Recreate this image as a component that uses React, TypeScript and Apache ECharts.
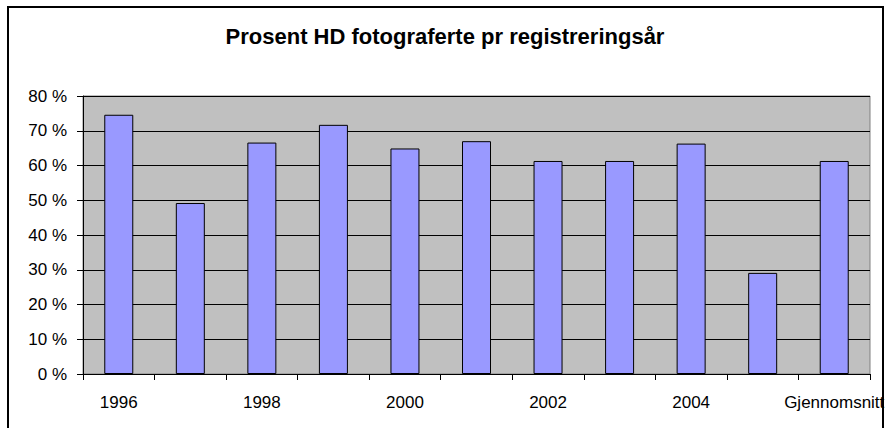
import React, { useEffect, useRef } from "react";
import * as echarts from "echarts";

const categories = ["1996", "1997", "1998", "1999", "2000", "2001", "2002", "2003", "2004", "2005", "Gjennomsnitt"];
const percentValues = [74.6, 49.2, 66.6, 71.7, 64.9, 67.0, 61.3, 61.3, 66.3, 29.1, 61.3];
const titleText = "Prosent HD fotograferte pr registreringsår";

export default function App() {
  const ref = useRef<HTMLDivElement>(null);
  useEffect(() => {
    if (!ref.current) return;
    const chart = echarts.init(ref.current, null, { renderer: "svg" });
    const font = "Liberation Sans, Arial, sans-serif";
    chart.setOption({
      animation: false,
      backgroundColor: "#ffffff",
      title: {
        text: titleText,
        left: "center",
        top: 20,
        textStyle: { fontFamily: font, fontSize: 22, fontWeight: "bold", color: "#000" },
      },
      graphic: [
        {
          type: "rect",
          shape: { x: 8, y: 7, width: 875, height: 440 },
          style: { fill: "none", stroke: "#000", lineWidth: 2 },
          z: -1,
          silent: true,
        },
      ],
      grid: {
        left: 83,
        right: 20,
        top: 96,
        bottom: 54,
        show: true,
        backgroundColor: "#C0C0C0",
        borderColor: "#808080",
        borderWidth: 1,
      },
      xAxis: {
        type: "category",
        data: categories,
        boundaryGap: true,
        axisLine: { show: true, lineStyle: { color: "#000", width: 1 } },
        axisTick: { show: true, interval: 0, length: 6, lineStyle: { color: "#000" } },
        axisLabel: {
          interval: 1,
          margin: 20,
          fontFamily: font,
          fontSize: 17,
          color: "#000",
        },
      },
      yAxis: {
        type: "value",
        min: 0,
        max: 80,
        interval: 10,
        axisLine: { show: true, lineStyle: { color: "#000", width: 1 } },
        axisTick: { show: true, length: 6, lineStyle: { color: "#000" } },
        axisLabel: {
          formatter: "{value} %",
          margin: 16,
          fontFamily: font,
          fontSize: 17,
          color: "#000",
        },
        splitLine: { show: true, lineStyle: { color: "#000", width: 1 } },
      },
      series: [
        {
          type: "bar",
          data: percentValues,
          barWidth: 29,
          itemStyle: { color: "#9999FF", borderColor: "#000", borderWidth: 1 },
        },
      ],
    });
    return () => chart.dispose();
  }, []);
  return (
    <div
      ref={ref}
      style={{ position: "absolute", left: 0, top: 0, width: 890, height: 428 }}
    />
  );
}
